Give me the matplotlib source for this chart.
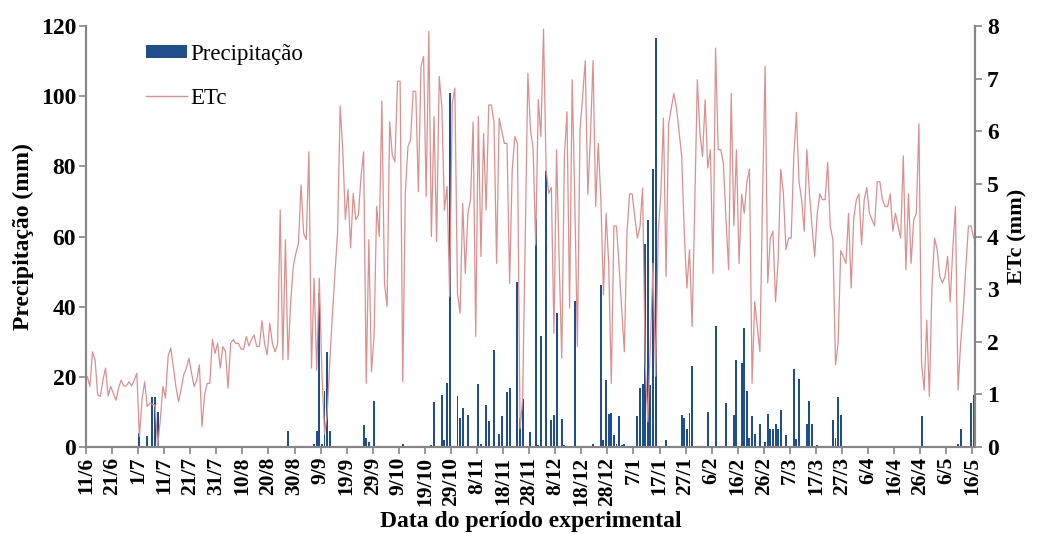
import numpy as np
import matplotlib
matplotlib.use("Agg")
import matplotlib.pyplot as plt
from matplotlib.patches import Patch
from matplotlib.lines import Line2D

# ==========================
# fonte (Times New Roman -> Liberation Serif)
# ==========================
plt.rcParams['font.family'] = ['Liberation Serif', 'DejaVu Serif']

# ==========================
# dados diários: 11/6 ... 16/5 (341 dias)
# ==========================
tick_labels = ["11/6", "21/6", "1/7", "11/7", "21/7", "31/7", "10/8", "20/8", "30/8",
               "9/9", "19/9", "29/9", "9/10", "19/10", "29/10", "8/11", "18/11", "28/11",
               "8/12", "18/12", "28/12", "7/1", "17/1", "27/1", "6/2", "16/2", "26/2",
               "7/3", "17/3", "27/3", "6/4", "16/4", "26/4", "6/5", "16/5"]

# ETc (mm/dia)
etc = [
    1.34, 1.15, 1.81, 1.65, 0.99, 0.96, 1.27, 1.50, 0.97, 1.15,
    1.02, 0.89, 1.12, 1.27, 1.16, 1.16, 1.24, 1.16, 1.27, 1.40,
    0.20, 0.89, 1.24, 0.77, 0.83, 0.81, 0.80, 0.00, 0.51, 1.15,
    0.93, 1.72, 1.88, 1.53, 1.15, 0.86, 1.10, 1.37, 1.50, 1.69,
    1.40, 1.15, 1.27, 1.56, 0.39, 0.99, 1.21, 1.21, 2.05, 1.78,
    1.97, 1.50, 1.91, 1.81, 1.12, 1.97, 2.04, 1.97, 1.97, 1.86,
    1.86, 2.10, 1.92, 2.04, 2.13, 1.91, 1.91, 2.40, 1.97, 1.75,
    2.35, 1.97, 1.81, 1.95, 4.50, 1.66, 3.94, 1.66, 2.73, 3.43,
    3.68, 3.87, 4.98, 4.06, 3.94, 5.61, 1.50, 3.21, 1.46, 3.21,
    1.40, 0.25, 0.60, 1.60, 2.50, 3.30, 4.06, 6.48, 5.65, 4.32,
    4.89, 3.78, 4.82, 4.32, 4.41, 5.14, 5.61, 1.21, 3.94, 1.43,
    2.10, 4.57, 4.00, 6.57, 3.11, 2.67, 6.18, 5.55, 5.42, 6.95,
    6.95, 1.24, 4.82, 5.71, 5.84, 6.76, 6.76, 4.85, 7.23, 7.42,
    4.76, 7.90, 4.00, 6.28, 3.90, 7.04, 6.47, 4.50, 4.95, 2.86,
    6.53, 6.82, 2.92, 2.54, 4.63, 3.30, 4.44, 4.70, 6.18, 2.10,
    6.28, 3.62, 5.96, 4.50, 6.50, 6.50, 6.18, 3.49, 6.25, 6.00,
    5.77, 5.77, 3.11, 5.27, 5.90, 5.77, 0.35, 0.90, 4.00, 7.10,
    6.03, 5.68, 3.84, 6.60, 5.90, 7.94, 5.27, 4.82, 4.93, 2.16,
    5.65, 3.55, 1.69, 5.52, 6.37, 2.64, 6.98, 4.70, 1.91, 6.03,
    6.66, 7.34, 4.80, 5.90, 7.34, 4.57, 5.77, 4.70, 2.89, 4.44,
    3.49, 1.21, 4.20, 4.20, 3.43, 2.60, 1.81, 4.06, 4.81, 4.81,
    4.38, 3.97, 4.19, 4.92, 1.60, 0.48, 2.00, 3.49, 1.34, 4.10,
    4.80, 6.25, 3.24, 6.15, 6.44, 6.72, 6.44, 6.00, 5.52, 4.06,
    3.02, 3.75, 2.29, 4.57, 6.98, 5.96, 5.52, 6.60, 5.30, 5.65,
    3.30, 7.58, 5.65, 5.65, 5.39, 4.32, 3.37, 6.72, 4.20, 5.65,
    3.49, 4.80, 4.44, 5.04, 5.28, 1.21, 2.76, 2.29, 1.81, 4.70,
    7.23, 3.12, 3.97, 4.10, 2.76, 3.55, 5.28, 4.82, 3.75, 3.97,
    3.97, 5.52, 6.36, 5.04, 4.70, 4.10, 5.65, 4.82, 4.19, 3.62,
    4.44, 4.81, 4.70, 4.70, 5.41, 4.19, 3.94, 1.56, 1.97, 3.73,
    3.62, 3.49, 4.44, 3.02, 4.35, 4.70, 4.81, 3.84, 4.70, 4.93,
    4.44, 4.32, 4.20, 5.04, 5.04, 4.70, 4.57, 4.57, 4.81, 4.10,
    4.44, 4.19, 3.97, 5.53, 3.37, 4.81, 3.49, 4.32, 4.44, 6.14,
    1.59, 1.08, 2.41, 0.96, 3.05, 3.97, 3.75, 3.24, 3.12, 3.24,
    3.62, 2.76, 3.78, 4.57, 1.08, 1.97, 2.60, 3.43, 4.20, 4.20,
    3.97,
]

# precipitação: dia (índice a partir de 11/6) e lâmina (mm)
rain_day = [20, 23, 25, 26, 27,
            77,
            86, 87, 88, 89, 90, 91, 92, 93,
            106, 107, 108, 110, 121,
            132, 133, 136, 137, 138, 139,
            142, 143, 144, 146,
            150, 151, 153, 154, 156, 158, 159, 161, 162, 165, 166, 167,
            170, 172, 173, 174, 176, 178, 179, 180, 182, 183, 187,
            194, 197, 198, 199, 200, 201, 202, 203, 204, 205, 206,
            211, 212, 213, 214, 215, 216, 217, 218,
            222, 228, 229, 230, 231, 232, 238, 241,
            245, 248, 249, 251, 252, 253, 254, 255, 256, 258, 260, 261,
            262, 263, 264, 265, 266, 268,
            271, 272, 273, 276, 277, 278, 280,
            286, 287, 288, 289, 291,
            320, 323, 334, 335, 339, 340]
rain_mm = [4.0, 3.0, 14.2, 14.2, 9.9,
           4.6,
           0.4, 0.9, 4.7, 43.8, 1.0, 16.0, 27.2, 4.7,
           6.3, 2.5, 1.5, 13.1, 1.0,
           0.5, 12.8, 14.9, 2.0, 18.2, 100.9,
           14.6, 8.2, 11.0, 9.1,
           17.9, 1.0, 12.0, 7.5, 27.7, 3.7, 8.7, 15.6, 16.9, 47.1, 8.2, 13.6,
           4.3, 65.0, 0.6, 31.7, 78.8, 7.7, 9.0, 38.1, 7.9, 0.6, 41.7,
           0.8, 46.2, 2.0, 19.1, 9.4, 9.8, 3.4, 1.0, 8.7, 0.6, 0.9,
           8.8, 16.7, 18.0, 57.9, 64.7, 17.7, 79.3, 116.5,
           2.0, 9.0, 8.4, 5.0, 9.6, 23.1, 10.1, 34.5,
           12.5, 9.1, 24.8, 24.0, 33.8, 16.0, 2.7, 8.7, 3.7, 6.6, 1.5, 9.4,
           5.2, 5.2, 6.6, 5.2, 10.6, 3.4,
           22.1, 2.4, 19.3, 6.6, 13.2, 6.6, 0.5,
           7.7, 2.7, 14.2, 9.1, 0.3,
           8.9, 0.3, 0.8, 5.0, 12.6, 14.8]

n_days = len(etc)
x = np.arange(n_days) + 0.5
precip = np.zeros(n_days)
precip[rain_day] = rain_mm

# ==========================
# gráfico
# ==========================
blue = '#1F4E8C'
red = '#DB8F8E'
gray = '#868686'

fig = plt.figure(figsize=(10.37, 5.34), dpi=100)
ax = fig.add_axes([0.0829, 0.1629, 0.8573, 0.7884])
ax2 = ax.twinx()

ax.bar(x, precip, width=0.75, color=blue, linewidth=0)
ax2.plot(x, etc, color=red, lw=0.9)

ax.set_xlim(0, n_days)
ax.set_ylim(0, 120)
ax2.set_ylim(0, 8)

ax.set_xticks(np.arange(0, 10 * len(tick_labels), 10))
ax.set_xticklabels(tick_labels, rotation=90, fontsize=15.5, fontweight='bold')
ax.set_yticks(np.arange(0, 121, 20))
ax.set_yticklabels([str(v) for v in range(0, 121, 20)], fontsize=17, fontweight='bold')
ax2.set_yticks(np.arange(0, 9, 1))
ax2.set_yticklabels([str(v) for v in range(0, 9)], fontsize=17, fontweight='bold')

for a in (ax, ax2):
    a.spines['top'].set_visible(False)
    for s in ('left', 'right', 'bottom'):
        a.spines[s].set_color(gray)
        a.spines[s].set_linewidth(1.5)
    a.tick_params(colors=gray, labelcolor='black', length=5, width=1.2, direction='out')
ax.tick_params(axis='x', pad=2)
ax.tick_params(axis='y', pad=2)

ax.set_ylabel('Precipitação (mm)', fontsize=17, fontweight='bold', labelpad=5)
ax2.set_ylabel('ETc (mm)', fontsize=16, fontweight='bold', labelpad=6)
ax.set_xlabel('Data do período experimental', fontsize=17, fontweight='bold', labelpad=4)

handles = [Patch(facecolor=blue, edgecolor='none'), Line2D([], [], color=red, lw=1.0)]
ax2.legend(handles, ['Precipitação', 'ETc'], loc='upper left',
           bbox_to_anchor=(0.068, 0.958), frameon=False, fontsize=16.5,
           handlelength=1.75, handleheight=0.45, handletextpad=0.15,
           labelspacing=1.0, borderpad=0, borderaxespad=0)

plt.savefig('out.png', dpi=100)
